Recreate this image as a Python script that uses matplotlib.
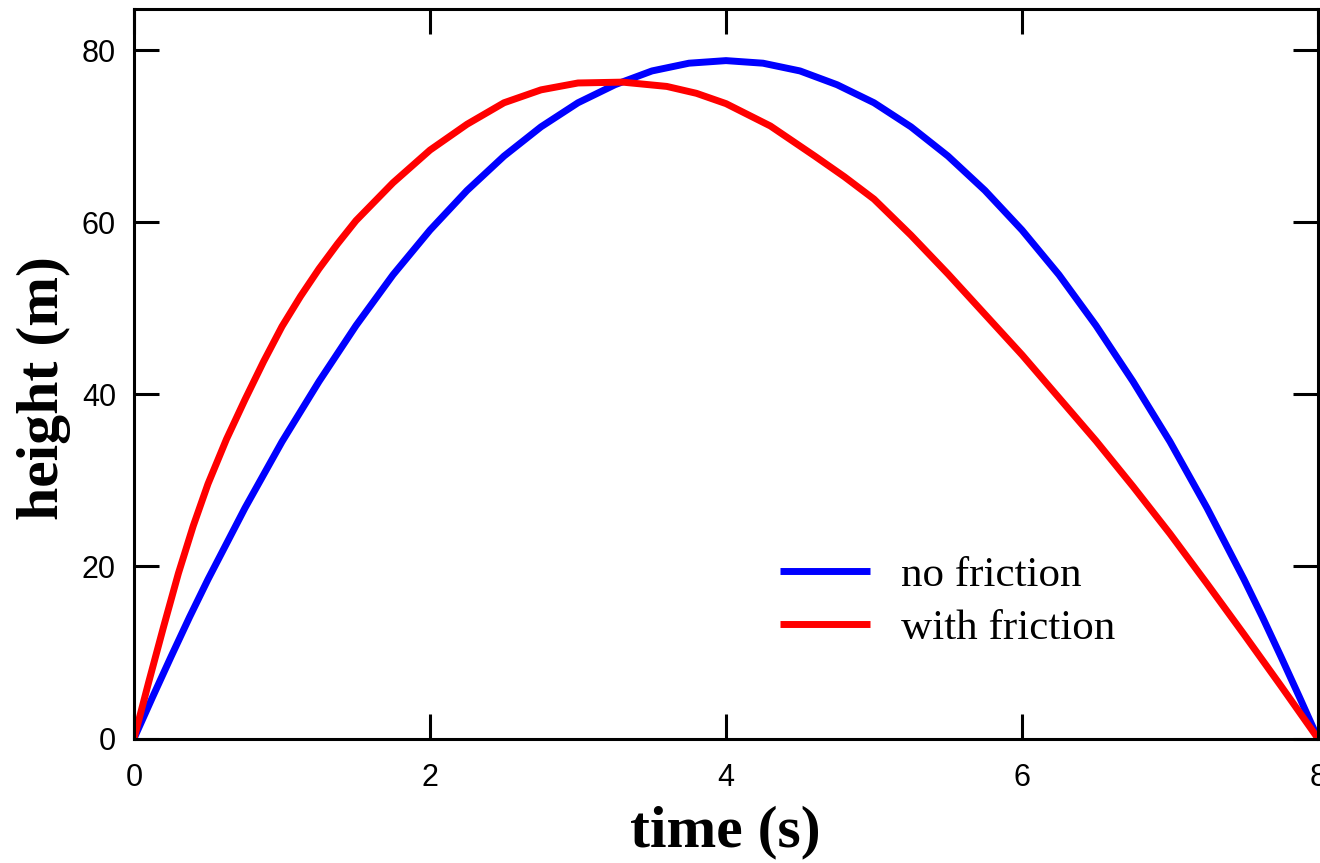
import matplotlib
matplotlib.use("Agg")
import matplotlib.pyplot as plt

# data
t_no = [0, 0.125, 0.25, 0.375, 0.5, 0.75, 1.0, 1.25, 1.5, 1.75, 2.0, 2.25, 2.5, 2.75, 3.0, 3.25, 3.5, 3.75, 4.0,
        4.25, 4.5, 4.75, 5.0, 5.25, 5.5, 5.75, 6.0, 6.25, 6.5, 6.75, 7.0, 7.25, 7.5, 7.625, 7.75, 7.875, 8.0]
h_no = [0, 4.8, 9.5, 14.1, 18.5, 26.8, 34.5, 41.5, 48.0, 53.9, 59.1, 63.7, 67.7, 71.1, 73.9, 76.0, 77.6, 78.5, 78.8,
        78.5, 77.6, 76.0, 73.9, 71.1, 67.7, 63.7, 59.1, 53.9, 48.0, 41.5, 34.5, 26.8, 18.5, 14.1, 9.5, 4.8, 0]

t_fr = [0, 0.1, 0.2, 0.3, 0.4, 0.5, 0.625, 0.75, 0.875, 1.0, 1.125, 1.25, 1.375, 1.5, 1.75, 2.0, 2.25, 2.5,
        2.75, 3.0, 3.3, 3.6, 3.8, 4.0, 4.3, 4.6, 4.8, 5.0, 5.25, 5.5, 5.75, 6.0, 6.25, 6.5, 6.75, 7.0,
        7.25, 7.5, 7.75, 8.0]
h_fr = [0, 6.6, 13.0, 19.2, 24.7, 29.6, 34.8, 39.4, 43.8, 47.9, 51.4, 54.6, 57.5, 60.2, 64.6, 68.4, 71.4, 73.9,
        75.4, 76.2, 76.3, 75.8, 75.0, 73.8, 71.2, 67.7, 65.3, 62.7, 58.5, 54.0, 49.3, 44.6, 39.6, 34.6, 29.3, 23.8,
        18.0, 12.1, 6.1, 0]

labels = ["no friction", "with friction"]
xticks = [0, 2, 4, 6, 8]
yticks = [0, 20, 40, 60, 80]

W, H = 1320, 863
fig = plt.figure(figsize=(W / 100, H / 100), dpi=100)
ax = fig.add_axes([134 / W, 1 - 738.5 / H, (1318 - 134) / W, (738.5 - 9) / H])

ax.plot(t_no, h_no, color="#0000ff", lw=5, solid_capstyle="butt", solid_joinstyle="round", label=labels[0])
ax.plot(t_fr, h_fr, color="#ff0000", lw=5, solid_capstyle="butt", solid_joinstyle="round", label=labels[1])

ax.set_xlim(0, 8)
ax.set_ylim(0, 84.8)
ax.set_xticks(xticks)
ax.set_yticks(yticks)
ax.set_xticklabels([str(v) for v in xticks], fontfamily="Liberation Sans", fontsize=22)
ax.set_yticklabels([str(v) for v in yticks], fontfamily="Liberation Sans", fontsize=22)
ax.tick_params(axis="both", which="major", direction="in", length=18, width=2.2,
               top=True, right=True, color="black")
ax.tick_params(axis="x", pad=18)
ax.tick_params(axis="y", pad=13)
for sp in ax.spines.values():
    sp.set_linewidth(2.2)
    sp.set_color("black")

fig.text(725 / W, 1 - 832 / H, "time (s)", fontfamily="Liberation Serif", fontweight="bold",
         fontsize=43, ha="center", va="center")
fig.text(44 / W, 1 - 388 / H, "height (m)", fontfamily="Liberation Serif", fontweight="bold",
         fontsize=43, ha="center", va="center", rotation=90)

leg = ax.legend(loc="upper left", bbox_to_anchor=(780 / W, 1 - 556 / H), bbox_transform=fig.transFigure,
                frameon=False, prop={"family": "Liberation Serif", "size": 31},
                handlelength=2.1, handletextpad=0.7, labelspacing=0.32, borderpad=0, borderaxespad=0)
for line in leg.get_lines():
    line.set_linewidth(5)

fig.savefig("out.png", dpi=100, facecolor="white")
